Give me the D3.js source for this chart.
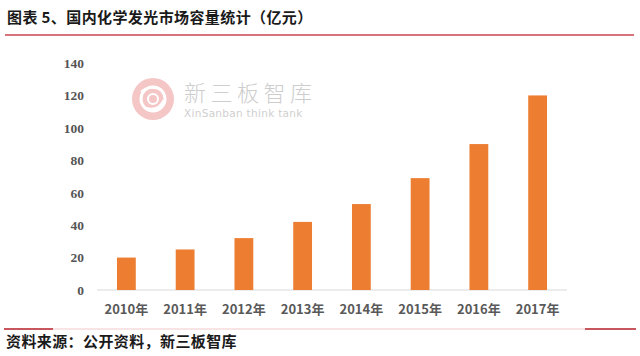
<!DOCTYPE html>
<html><head><meta charset="utf-8">
<script src="https://cdn.jsdelivr.net/npm/d3@7"></script>
<style>body{margin:0;background:#fff}svg{display:block}</style>
</head><body>
<svg id="c" width="640" height="356"></svg>
<script>
const categories = ["2010年","2011年","2012年","2013年","2014年","2015年","2016年","2017年"];
const values = [20, 25, 32, 42, 53, 69, 90, 120];
const yTicks = [0, 20, 40, 60, 80, 100, 120, 140];
const titleText = "图表 5、国内化学发光市场容量统计（亿元）";
const sourceText = "资料来源：公开资料，新三板智库";

const svg = d3.select("#c");
const W = 640, H = 356;
svg.append("rect").attr("width", W).attr("height", H).attr("fill", "#fff");

// title
svg.append("text").attr("x", 7).attr("y", 23)
  .attr("font-family", "'Noto Sans CJK SC', sans-serif").attr("font-weight", "bold")
  .attr("font-size", 15).attr("letter-spacing", 0.4).attr("fill", "#1a1a1a").text(titleText);
svg.append("line").attr("x1", 5).attr("x2", 634).attr("y1", 35).attr("y2", 35)
  .attr("stroke", "#d9737b").attr("stroke-width", 2);

// scales
const x = d3.scaleBand().domain(categories).range([97, 567]).paddingInner(0.68).paddingOuter(0.34);
const y = d3.scaleLinear().domain([0, 140]).range([290, 63]);

// watermark
const wm = svg.append("g");
wm.append("circle").attr("cx", 153).attr("cy", 99).attr("r", 21).attr("fill", "#f5c6c6");
wm.append("circle").attr("cx", 153).attr("cy", 99).attr("r", 12).attr("fill", "none")
  .attr("stroke", "#fff").attr("stroke-width", 3);
wm.append("path").attr("d", "M141,92 Q150,84 162,90 M146,108 Q158,112 164,100")
  .attr("fill", "none").attr("stroke", "#fff").attr("stroke-width", 2.5);
wm.append("circle").attr("cx", 153).attr("cy", 99).attr("r", 5).attr("fill", "none")
  .attr("stroke", "#fff").attr("stroke-width", 2);
wm.append("text").attr("x", 184).attr("y", 101)
  .attr("font-family", "'Noto Sans CJK SC', sans-serif").attr("font-size", 22)
  .attr("font-weight", 300)
  .attr("letter-spacing", 4.5).attr("fill", "#cdcdcd").text("新三板智库");
wm.append("text").attr("x", 184).attr("y", 117)
  .attr("font-family", "'DejaVu Sans', sans-serif").attr("font-size", 10.5)
  .attr("letter-spacing", 0.3).attr("fill", "#cfcfcf").text("XinSanban think tank");

// baseline
svg.append("line").attr("x1", 97).attr("x2", 567).attr("y1", y(0)).attr("y2", y(0))
  .attr("stroke", "#d9d9d9").attr("stroke-width", 1);

// y axis
const yAxis = d3.axisLeft(y).tickValues(yTicks).tickSize(0).tickPadding(0);
const ya = svg.append("g").attr("transform", "translate(84,0)").call(yAxis)
  .attr("font-family", "'Liberation Serif', 'DejaVu Serif', serif");
ya.select(".domain").remove();
ya.selectAll("text").style("font-family", "'Liberation Serif', 'DejaVu Serif', serif")
  .style("font-size", "13.5px").style("font-weight", "bold").attr("fill", "#555");

// x axis
const xAxis = d3.axisBottom(x).tickSize(0).tickPadding(0);
const xa = svg.append("g").attr("transform", "translate(0,305)").call(xAxis);
xa.select(".domain").remove();
xa.selectAll("text").attr("font-family", "'Noto Sans CJK SC', sans-serif").attr("font-size", 13)
  .attr("font-weight", "bold").attr("fill", "#595959");

// bars
svg.append("g").selectAll("rect").data(values).join("rect")
  .attr("x", (d, i) => x(categories[i]))
  .attr("width", x.bandwidth())
  .attr("y", d => y(d))
  .attr("height", d => y(0) - y(d))
  .attr("fill", "#ED7D31");

// footer line
svg.append("line").attr("x1", 4).attr("x2", 636).attr("y1", 329).attr("y2", 329)
  .attr("stroke", "#f2c9cc").attr("stroke-width", 1.2);
svg.append("line").attr("x1", 4).attr("x2", 53).attr("y1", 329).attr("y2", 329)
  .attr("stroke", "#b8282f").attr("stroke-width", 1.5);
svg.append("line").attr("x1", 585).attr("x2", 636).attr("y1", 329).attr("y2", 329)
  .attr("stroke", "#b8282f").attr("stroke-width", 1.5);

svg.append("text").attr("x", 6).attr("y", 347)
  .attr("font-family", "'Noto Sans CJK SC', sans-serif").attr("font-weight", "bold")
  .attr("font-size", 15).attr("letter-spacing", 0.4).attr("fill", "#1a1a1a").text(sourceText);
</script>
</body></html>
